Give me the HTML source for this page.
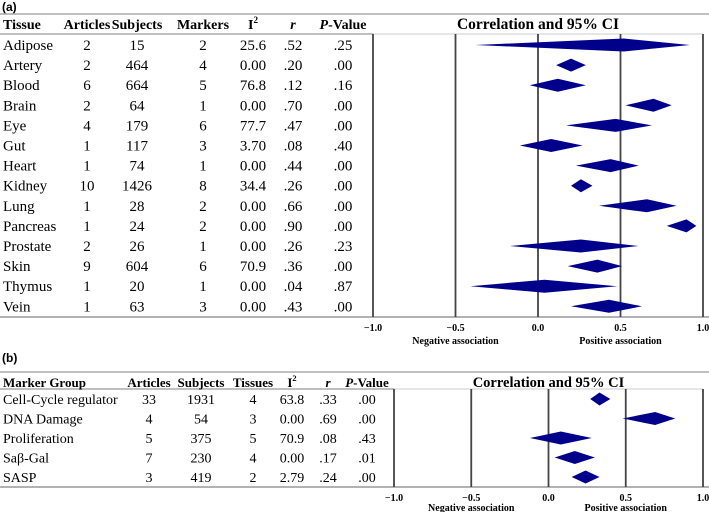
<!DOCTYPE html>
<html><head><meta charset="utf-8"><style>
body{margin:0;background:#fff;}
svg{display:block;font-family:"Liberation Serif",serif;}
</style></head><body>
<svg id="c" width="709" height="512" viewBox="0 0 709 512" xmlns="http://www.w3.org/2000/svg"></svg>
<script>
const tissues=["Adipose","Artery","Blood","Brain","Eye","Gut","Heart","Kidney","Lung","Pancreas","Prostate","Skin","Thymus","Vein"];
const tArticles=["2","2","6","2","4","1","1","10","1","1","2","9","1","1"];
const tSubjects=["15","464","664","64","179","117","74","1426","28","24","26","604","20","63"];
const tMarkers=["2","4","5","1","6","3","1","8","2","2","1","6","1","3"];
const tI2=["25.6","0.00","76.8","0.00","77.7","3.70","0.00","34.4","0.00","0.00","0.00","70.9","0.00","0.00"];
const tR=[.52,.20,.12,.70,.47,.08,.44,.26,.66,.90,.26,.36,.04,.43];
const tP=[".25",".00",".16",".00",".00",".40",".00",".00",".00",".00",".23",".00",".87",".00"];
const tLo=[-0.38,0.11,-0.05,0.53,0.17,-0.11,0.23,0.20,0.37,0.78,-0.17,0.18,-0.41,0.20];
const tHi=[0.92,0.29,0.29,0.81,0.69,0.27,0.61,0.33,0.84,0.96,0.61,0.51,0.48,0.63];

const groups=["Cell-Cycle regulator","DNA Damage","Proliferation","Saβ-Gal","SASP"];
const gArticles=["33","4","5","7","3"];
const gSubjects=["1931","54","375","230","419"];
const gTissues=["4","3","5","4","2"];
const gI2=["63.8","0.00","70.9","0.00","2.79"];
const gR=[.33,.69,.08,.17,.24];
const gP=[".00",".00",".43",".01",".00"];
const gLo=[0.27,0.48,-0.12,0.04,0.15];
const gHi=[0.40,0.82,0.28,0.30,0.33];

const ticks=[-1,-0.5,0,0.5,1];
const tickLabels=["\u22121.0","\u22120.5","0.0","0.5","1.0"];

const svg=document.getElementById('c');
const NS="http://www.w3.org/2000/svg";
function mk(tag,attrs,txt){const e=document.createElementNS(NS,tag);for(const k in attrs)e.setAttribute(k,attrs[k]);if(txt!==undefined)e.textContent=txt;svg.appendChild(e);return e;}

function panel(cfg){
  const xs=v=>cfg.x0+(v+1)/2*(cfg.x1-cfg.x0);
  const ys=i=>cfg.rowY0+i*cfg.rowH;
  let e=mk('text',{x:2,y:cfg.labelY,'font-family':'Liberation Sans, sans-serif','font-weight':'bold','font-size':12},cfg.label);
  
  
  e=mk('line',{x1:0,x2:709,y1:cfg.topY,y2:cfg.topY,stroke:'#aaa','stroke-width':1.5});
  
  
  e=mk('line',{x1:0,x2:cfg.x0,y1:cfg.hdrBot,y2:cfg.hdrBot,stroke:'#aaa','stroke-width':1.5});
  
  
  e=mk('line',{x1:cfg.x0,x2:cfg.x1,y1:cfg.hdrBot,y2:cfg.hdrBot,stroke:'#ccc','stroke-width':1});
  
  
  e=mk('line',{x1:0,x2:709,y1:cfg.axisY,y2:cfg.axisY,stroke:'#999','stroke-width':1.5});
  
  
  cfg.cols.forEach((c,ci)=>{
    const t=mk('text',{x:c.x,y:cfg.hdrY,'font-weight':'bold','font-size':cfg.hfs,'text-anchor':c.anchor});
    
    
    if(c.h==='I2'){t.textContent='I';const s=document.createElementNS(NS,'tspan');s.setAttribute('font-size',cfg.hfs*0.65);s.setAttribute('dy',-6);s.textContent='2';t.appendChild(s);}
    else if(c.h==='r'){t.setAttribute('font-style','italic');t.textContent='r';}
    else if(c.h==='P'){const s=document.createElementNS(NS,'tspan');s.setAttribute('font-style','italic');s.textContent='P';t.appendChild(s);t.appendChild(document.createTextNode('-Value'));}
    else t.textContent=c.h;
  });
  let ct=mk('text',{x:(cfg.x0+cfg.x1)/2,y:cfg.hdrY,'font-weight':'bold','font-size':cfg.hfs+1.5,'text-anchor':'middle'},'Correlation and 95% CI');
  
  
  cfg.rows[0].forEach((_,i)=>{
    cfg.cols.forEach((c,ci)=>{
      let v=cfg.rows[ci][i];
      if(typeof v==='number')v=v.toFixed(2).replace(/^0/,'');
      const t=mk('text',{x:c.x,y:ys(i)+5,'font-size':cfg.fs,'text-anchor':c.anchor},v);
      
      
    });
  });
  ticks.forEach((tv,k)=>{
    const l=mk('line',{x1:xs(tv),x2:xs(tv),y1:cfg.hdrBot,y2:cfg.axisY,stroke:'#444','stroke-width':1.8});
    
    
    const t=mk('text',{x:xs(tv),y:cfg.tickY,'font-weight':'bold','font-size':10,'text-anchor':'middle'},tickLabels[k]);
    
    
  });
  cfg.r.forEach((r,i)=>{
    const y=ys(i),h=6.5;
    const d=mk('polygon',{points:`${xs(cfg.lo[i])},${y} ${xs(r)},${y-h} ${xs(cfg.hi[i])},${y} ${xs(r)},${y+h}`,fill:'#00008b'});
    
    
  });
  let n=mk('text',{x:xs(-0.5),y:cfg.assocY,'font-weight':'bold','font-size':10,'text-anchor':'middle'},'Negative association');
  
  
  n=mk('text',{x:xs(0.5),y:cfg.assocY,'font-weight':'bold','font-size':10,'text-anchor':'middle'},'Positive association');
  
  
}

panel({label:'(a)',labelY:11,topY:14,hdrY:29,hdrBot:34,axisY:317,tickY:331,assocY:344,
  x0:373,x1:703,rowY0:45,rowH:20.1,fs:15,hfs:14,
  cols:[{h:'Tissue',x:3,anchor:'start'},{h:'Articles',x:87,anchor:'middle'},{h:'Subjects',x:137,anchor:'middle'},{h:'Markers',x:203,anchor:'middle'},{h:'I2',x:253,anchor:'middle'},{h:'r',x:293,anchor:'middle'},{h:'P',x:343,anchor:'middle'}],
  rows:[tissues,tArticles,tSubjects,tMarkers,tI2,tR,tP],r:tR,lo:tLo,hi:tHi});

panel({label:'(b)',labelY:362,topY:372,hdrY:387,hdrBot:389,axisY:487,tickY:501,assocY:511,
  x0:394,x1:703,rowY0:399,rowH:19.5,fs:14,hfs:13,
  cols:[{h:'Marker Group',x:3,anchor:'start'},{h:'Articles',x:149,anchor:'middle'},{h:'Subjects',x:201,anchor:'middle'},{h:'Tissues',x:253,anchor:'middle'},{h:'I2',x:292,anchor:'middle'},{h:'r',x:328,anchor:'middle'},{h:'P',x:367,anchor:'middle'}],
  rows:[groups,gArticles,gSubjects,gTissues,gI2,gR,gP],r:gR,lo:gLo,hi:gHi});
</script>
</body></html>
